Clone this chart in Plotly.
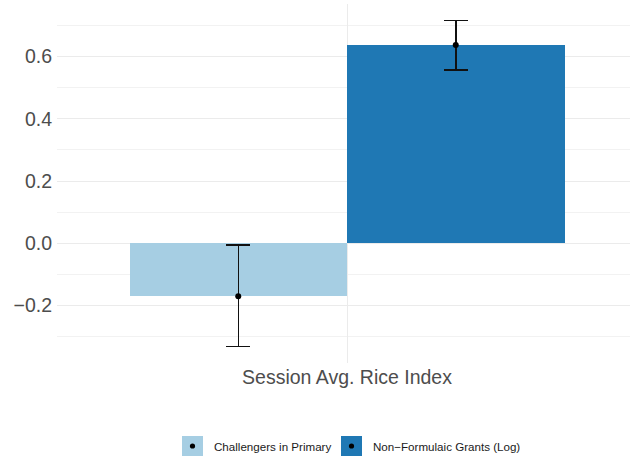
import plotly.graph_objects as go

# Coefficient estimates with confidence bounds
category = "Session Avg. Rice Index"
series = ["Challengers in Primary", "Non\u2212Formulaic Grants (Log)"]
estimate = [-0.170, 0.637]
lower = [-0.332, 0.556]
upper = [-0.006, 0.716]
colors = ["#A6CEE3", "#1F78B4"]

y_ticks = [-0.2, 0.0, 0.2, 0.4, 0.6]
y_minor = [-0.3, -0.1, 0.1, 0.3, 0.5, 0.7]

W, H = 630, 456
M_L, M_R, M_T, M_B = 57, 0, 4, 93
plot_w = W - M_L - M_R
plot_h = H - M_T - M_B

# dodge layout: one category at position 1, bars share 0.9 of the slot
n = len(series)
slot = 0.9
bw = slot / n
xpos = [1 + (i - (n - 1) / 2) * bw for i in range(n)]

fig = go.Figure()
for i, name in enumerate(series):
    fig.add_trace(go.Bar(
        x=[xpos[i]], y=[estimate[i]], width=bw, name=name,
        marker=dict(color=colors[i], line=dict(width=0)),
        error_y=dict(type="data", symmetric=False,
                     array=[upper[i] - estimate[i]],
                     arrayminus=[estimate[i] - lower[i]],
                     color="#111111", thickness=1.5, width=12),
        showlegend=False,
    ))
    fig.add_trace(go.Scatter(
        x=[xpos[i]], y=[estimate[i]], mode="markers",
        marker=dict(color="black", size=6), showlegend=False,
        hoverinfo="skip",
    ))

# y range with 5% padding around the data
lo, hi = min(lower), max(upper)
pad = (hi - lo) * 0.05
y_range = [lo - pad, hi + pad]

# x range: discrete slot padded by 0.6 on each side (panel clipped at page edge)
px_per_unit = (637 - 57) / 1.2
x0 = 1 - 0.6
x_range = [x0, x0 + plot_w / px_per_unit]

grid = "#EBEBEB"
tick_font = dict(size=19.5, color="#4D4D4D")
fig.update_layout(
    width=W, height=H,
    margin=dict(l=M_L, r=M_R, t=M_T, b=M_B, pad=0),
    paper_bgcolor="white", plot_bgcolor="white",
    font=dict(family="Liberation Sans, Arial, sans-serif"),
    bargap=0, showlegend=False,
    xaxis=dict(range=x_range, tickmode="array", tickvals=[1], ticktext=[category],
               showgrid=True, gridcolor=grid, gridwidth=1.4, zeroline=False,
               showline=False, ticks="", tickfont=tick_font,
               fixedrange=True),
    yaxis=dict(range=y_range, tickmode="array", tickvals=y_ticks,
               ticktext=[f"{v:.1f}".replace("-", "\u2212") for v in y_ticks],
               showgrid=True, gridcolor=grid, gridwidth=1.4, zeroline=False,
               showline=False, ticks="", tickfont=tick_font,
               ticklabelstandoff=4,
               minor=dict(tickmode="array", tickvals=y_minor, showgrid=True,
                          gridcolor="#F2F2F2", gridwidth=1),
               fixedrange=True),
)


def px_x(p):
    return (p - M_L) / plot_w


def px_y(p):
    return (H - M_B - p) / plot_h


# bottom legend drawn with shapes and text
key_left = [182, 341]
text_left = [212, 371]
key_size = 20
key_top = 436
for i, name in enumerate(series):
    fig.add_shape(type="rect", xref="paper", yref="paper",
                  x0=px_x(key_left[i]), x1=px_x(key_left[i] + key_size + 1),
                  y0=px_y(key_top + key_size), y1=px_y(key_top),
                  fillcolor=colors[i], line=dict(width=0))
    cx = key_left[i] + (key_size + 1) / 2
    cy = key_top + key_size / 2
    r = 2.6
    fig.add_shape(type="circle", xref="paper", yref="paper",
                  x0=px_x(cx - r), x1=px_x(cx + r),
                  y0=px_y(cy + r), y1=px_y(cy - r),
                  fillcolor="black", line=dict(width=0))
    fig.add_annotation(xref="paper", yref="paper", x=px_x(text_left[i]), y=px_y(cy),
                       xanchor="left", yanchor="middle", text=name, showarrow=False,
                       font=dict(size=11.6, color="#1A1A1A"))

fig.write_html("out.html", config={"displayModeBar": False})
